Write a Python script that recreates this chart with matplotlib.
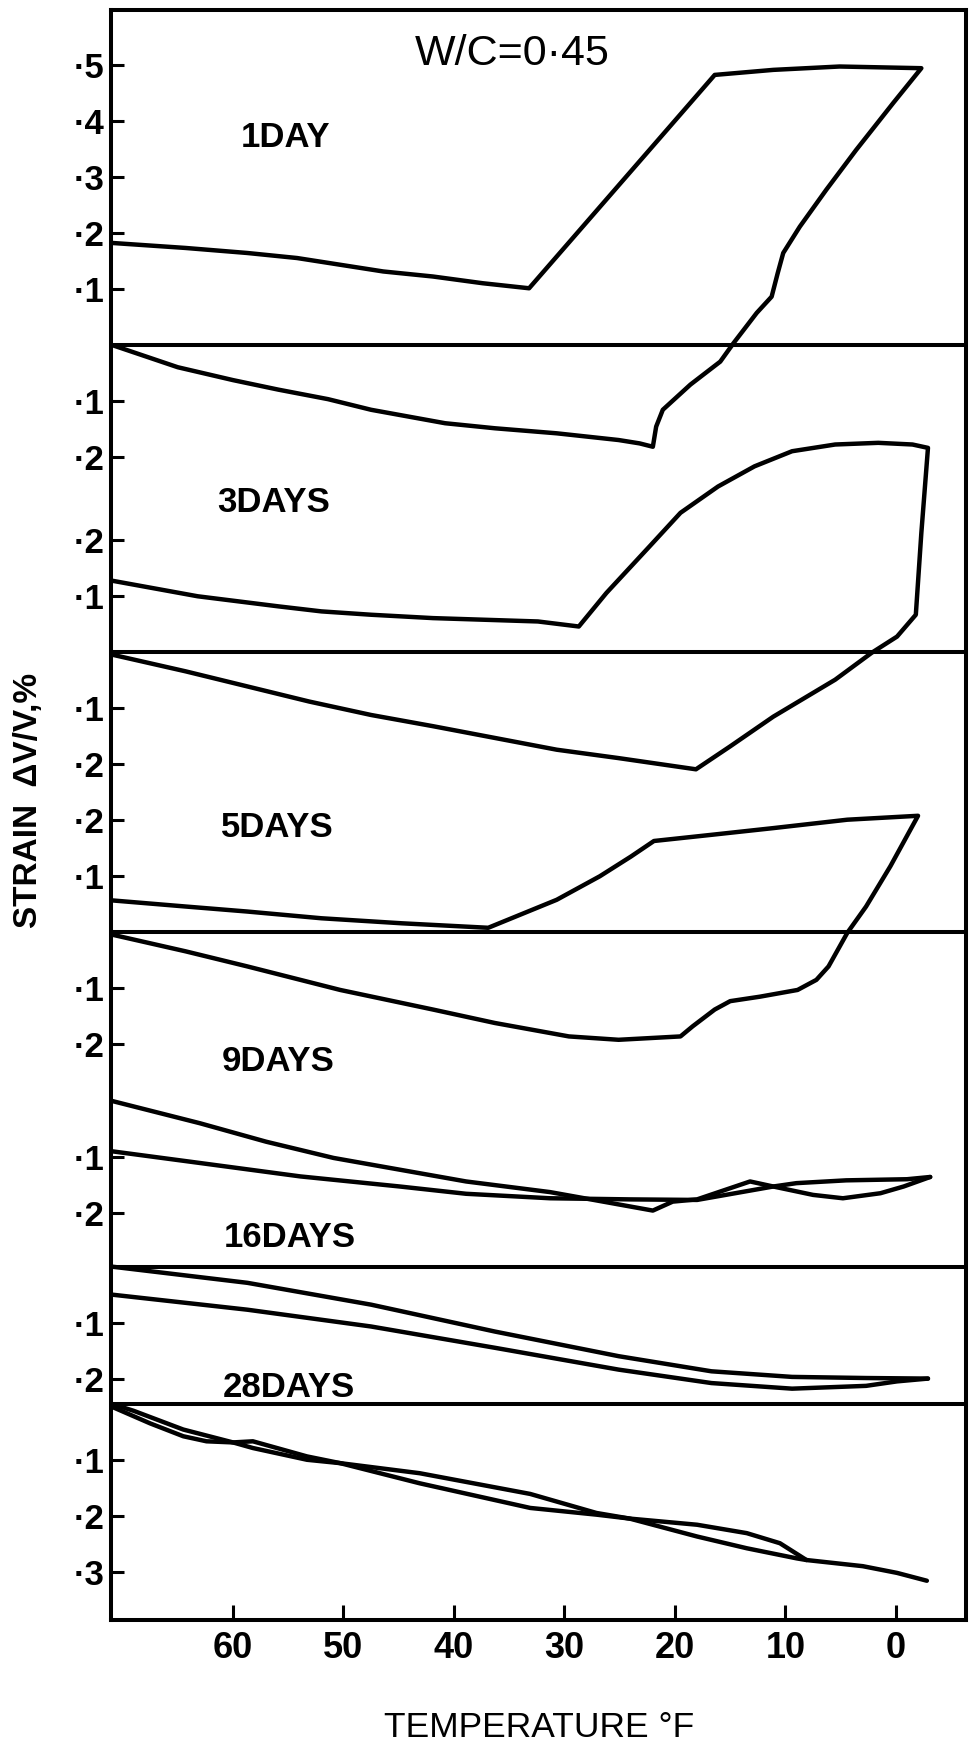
import matplotlib.pyplot as plt

plt.rcParams['font.family'] = ['Liberation Sans', 'DejaVu Sans']

# Volume strain (%) against temperature (deg F) for each curing age.
# Each list pair traces one freeze-thaw path.
day1_temp = [71.0, 64.3, 58.7, 54.2, 50.3, 46.4, 41.9, 37.4, 33.2, 16.4, 11.1, 5.1, -2.3,
             0.24, 3.6, 6.3, 8.7, 10.2, 10.7, 11.25, 12.6, 14.7, 15.9, 18.6, 21.1, 21.7, 22.0,
             23.2, 25.1, 30.7, 36.3, 40.8, 47.5, 51.4, 55.9, 60.0, 65.0, 71.0]
day1_strain = [0.182, 0.173, 0.164, 0.155, 0.143, 0.131, 0.122, 0.110, 0.101, 0.482, 0.491, 0.497,
               0.494, 0.432, 0.348, 0.277, 0.211, 0.164, 0.128, 0.086, 0.057, 0.003, -0.030,
               -0.071, -0.116, -0.146, -0.182, -0.176, -0.170, -0.158, -0.149, -0.140, -0.116,
               -0.097, -0.080, -0.063, -0.040, 0.0]

day3_temp = [71.0, 63.2, 55.9, 52.0, 47.5, 41.9, 32.4, 28.7, 26.2, 22.3, 19.5, 16.1, 12.8, 9.4, 5.5,
             1.6, -1.5, -2.9, -2.3, -1.8, -0.1, 2.2, 5.5, 11.1, 15.0, 18.1, 25.1, 30.7, 36.3, 41.9,
             47.5, 53.1, 58.7, 64.3, 71.0]
day3_strain = [0.127, 0.099, 0.081, 0.072, 0.066, 0.060, 0.054, 0.045, 0.105, 0.188, 0.248, 0.295,
               0.331, 0.358, 0.370, 0.373, 0.370, 0.364, 0.212, 0.066, 0.027, -0.002, -0.050,
               -0.116, -0.169, -0.210, -0.190, -0.175, -0.154, -0.133, -0.113, -0.089, -0.062,
               -0.035, -0.005]

day5_temp = [71.0, 64.3, 58.7, 52.0, 44.7, 36.9, 30.7, 26.8, 24.0, 21.9, 16.7, 11.1, 4.4, -2.0, 0.5,
             2.7, 4.4, 6.1, 7.2, 8.9, 12.3, 15.0, 16.4, 18.4, 19.5, 25.1, 29.6, 36.3, 41.9, 50.3,
             58.7, 64.3, 71.0]
day5_strain = [0.056, 0.045, 0.036, 0.024, 0.015, 0.007, 0.057, 0.099, 0.134, 0.162, 0.173, 0.185,
               0.200, 0.207, 0.117, 0.045, -0.002, -0.062, -0.086, -0.104, -0.116, -0.124, -0.139,
               -0.169, -0.187, -0.193, -0.187, -0.163, -0.139, -0.104, -0.062, -0.035, -0.005]

day9_cool_temp = [71.0, 63.0, 57.0, 50.9, 44.9, 38.9, 31.3, 26.5, 22.0, 20.2, 18.0, 13.2, 11.1, 7.5,
                  4.8, 1.4, -0.7, -3.1]
day9_cool_strain = [0.0, -0.040, -0.073, -0.102, -0.123, -0.144, -0.163, -0.180, -0.196, -0.180,
                    -0.176, -0.144, -0.153, -0.168, -0.174, -0.165, -0.153, -0.136]
day9_warm_temp = [71.0, 63.0, 53.9, 44.9, 38.9, 31.3, 24.1, 18.0, 11.1, 9.0, 4.5, -1.0, -3.1]
day9_warm_strain = [-0.090, -0.111, -0.135, -0.153, -0.166, -0.174, -0.176, -0.177, -0.153, -0.147,
                    -0.142, -0.140, -0.136]

day16_cool_temp = [71.0, 58.7, 47.5, 36.3, 25.1, 16.7, 9.4, 2.7, -2.9]
day16_cool_strain = [0.0, -0.029, -0.068, -0.116, -0.160, -0.187, -0.197, -0.199, -0.200]
day16_warm_temp = [71.0, 58.7, 47.5, 36.3, 25.1, 16.7, 9.4, 2.7, -0.1, -2.9]
day16_warm_strain = [-0.050, -0.077, -0.107, -0.145, -0.184, -0.208, -0.218, -0.213, -0.205, -0.200]

day28_cool_temp = [71.0, 69.0, 64.5, 60.0, 58.2, 53.3, 50.3, 43.1, 33.1, 27.1, 24.1, 18.0, 13.5, 9.0,
                   8.1, 3.0, -0.1, -2.8]
day28_cool_strain = [0.0, -0.0125, -0.046, -0.069, -0.079, -0.100, -0.106, -0.124, -0.161, -0.195,
                     -0.205, -0.237, -0.258, -0.276, -0.279, -0.290, -0.302, -0.316]
day28_warm_temp = [71.0, 67.5, 64.5, 62.4, 60.0, 58.2, 53.3, 50.3, 43.1, 33.1, 27.1, 24.1, 18.0,
                   13.5, 10.5, 8.1]
day28_warm_strain = [-0.005, -0.035, -0.058, -0.067, -0.069, -0.067, -0.094, -0.106, -0.142, -0.186,
                     -0.198, -0.205, -0.216, -0.231, -0.249, -0.279]

ages = ['1DAY', '3DAYS', '5DAYS', '9DAYS', '16DAYS', '28DAYS']
strain_ticks = [[0.5, 0.4, 0.3, 0.2, 0.1, -0.1, -0.2],
                [0.2, 0.1, -0.1, -0.2],
                [0.2, 0.1, -0.1, -0.2],
                [-0.1, -0.2],
                [-0.1, -0.2],
                [-0.1, -0.2, -0.3]]
temp_ticks = [60, 50, 40, 30, 20, 10, 0]

paths = [
    [(day1_temp, day1_strain)],
    [(day3_temp, day3_strain)],
    [(day5_temp, day5_strain)],
    [(day9_cool_temp, day9_cool_strain), (day9_warm_temp, day9_warm_strain)],
    [(day16_cool_temp, day16_cool_strain), (day16_warm_temp, day16_warm_strain)],
    [(day28_cool_temp, day28_cool_strain), (day28_warm_temp, day28_warm_strain)],
]

# stacking: where each age's zero sits on the shared axis, and where its name goes
offsets = [0.0, -0.548, -1.048, -1.35, -1.646, -1.891]
show_zero = [True, True, True, False, True, True]
name_x = [59.3, 61.4, 61.1, 61.0, 60.8, 60.9]
name_y = [0.354, 0.250, 0.169, 0.054, 0.035, 0.012]

fig = plt.figure(figsize=(9.7, 17.46), dpi=100)
ax = fig.add_axes([0.1149, 0.0722, 0.8805, 0.9221])

ytick_pos, ytick_lab = [], []
for name, off, runs, levels, zero, nx, ny in zip(ages, offsets, paths, strain_ticks,
                                                  show_zero, name_x, name_y):
    for t, s in runs:
        ax.plot(t, [v + off for v in s], color='black', lw=3.2,
                solid_joinstyle='round', solid_capstyle='round')
    if zero:
        ax.axhline(off, color='black', lw=2.9)
    ax.text(nx, off + ny, name, fontsize=25, fontweight='bold', ha='left', va='baseline')
    for v in levels:
        ytick_pos.append(off + v)
        ytick_lab.append('\u00b7%d' % round(abs(v) * 10))

ax.text(34.75, 0.5, 'W/C=0\u00b745', fontsize=31, ha='center', va='baseline')

ax.set_xlim(71.0, -6.3)
ax.set_ylim(-2.277, 0.598)
ax.set_xticks(temp_ticks)
ax.set_xticklabels([str(t) for t in temp_ticks], fontweight='bold')
ax.set_yticks(ytick_pos)
ax.set_yticklabels(ytick_lab, fontweight='bold')

ax.tick_params(axis='y', direction='in', length=9, width=2.2, pad=5, labelsize=25)
ax.tick_params(axis='x', direction='in', length=11, width=2.2, pad=8, labelsize=26)
for sp in ax.spines.values():
    sp.set_linewidth(2.9)

ax.set_xlabel('TEMPERATURE \u00b0F', fontsize=25.5, va='center')
ax.xaxis.set_label_coords(0.501, -0.0665)
ax.set_ylabel('STRAIN  \u0394V/V,%', fontsize=24, fontweight='bold', va='center')
ax.yaxis.set_label_coords(-0.0966, 0.509)

fig.savefig('out.png', dpi=100)
